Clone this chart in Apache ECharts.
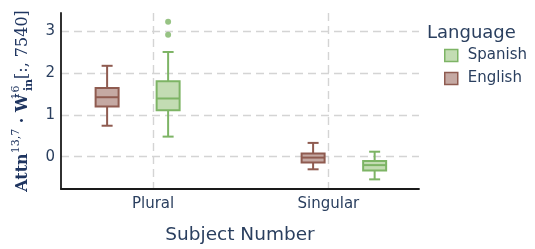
<!DOCTYPE html>
<html>
<head>
<meta charset="utf-8">
<script src="https://cdn.jsdelivr.net/npm/echarts@6/dist/echarts.min.js"></script>
<style>
  html, body { margin: 0; padding: 0; background: #fff; }
  #chart { width: 535px; height: 249px; }
</style>
</head>
<body>
<div id="chart"></div>
<script>
// 分类与数据（min, Q1, median, Q3, max）
const categories = ['Plural', 'Singular'];
const yTicks = [0, 1, 2, 3];
const englishBoxes = [
  [0.74, 1.20, 1.42, 1.64, 2.17],
  [-0.30, -0.14, -0.02, 0.08, 0.33],
];
const spanishBoxes = [
  [0.48, 1.11, 1.39, 1.80, 2.50],
  [-0.54, -0.33, -0.20, -0.10, 0.12],
];
// 离群点：[分类下标, 值]
const spanishOutliers = [
  [0, 3.22],
  [0, 2.91],
];

// 每个语言在分类内的偏移（轴单位）
const dodge = {
  English: [-0.262, -0.087],
  Spanish: [0.086, 0.264],
};

const TEXT = '#2a3f5f';
const LABEL = '#1f3560';
const colors = {
  English: { edge: '#8f5b50', fill: '#c5a9a3' },
  Spanish: { edge: '#7db465', fill: '#c3dcb3' },
};

const boxWidth = 23;
const capWidth = 11;

function boxRender(name) {
  return function (params, api) {
    const cat = api.value(0);
    const x = cat + dodge[name][cat];
    const pMin = api.coord([x, api.value(1)]);
    const pQ1 = api.coord([x, api.value(2)]);
    const pMed = api.coord([x, api.value(3)]);
    const pQ3 = api.coord([x, api.value(4)]);
    const pMax = api.coord([x, api.value(5)]);
    const cx = pMed[0];
    const c = colors[name];
    const line = { stroke: c.edge, lineWidth: 2, fill: null };
    return {
      type: 'group',
      children: [
        { type: 'line', shape: { x1: cx, y1: pMax[1], x2: cx, y2: pQ3[1] }, style: line },
        { type: 'line', shape: { x1: cx, y1: pQ1[1], x2: cx, y2: pMin[1] }, style: line },
        { type: 'line', shape: { x1: cx - capWidth / 2, y1: pMax[1], x2: cx + capWidth / 2, y2: pMax[1] }, style: line },
        { type: 'line', shape: { x1: cx - capWidth / 2, y1: pMin[1], x2: cx + capWidth / 2, y2: pMin[1] }, style: line },
        {
          type: 'rect',
          shape: { x: cx - boxWidth / 2, y: pQ3[1], width: boxWidth, height: pQ1[1] - pQ3[1] },
          style: { fill: c.fill, stroke: c.edge, lineWidth: 2 },
        },
        { type: 'line', shape: { x1: cx - boxWidth / 2, y1: pMed[1], x2: cx + boxWidth / 2, y2: pMed[1] }, style: line },
      ],
    };
  };
}

function boxData(boxes) {
  return boxes.map((b, i) => [i].concat(b));
}

const chart = echarts.init(document.getElementById('chart'), null, { renderer: 'canvas' });

const serif = 'DejaVu Serif';

const option = {
  animation: false,
  textStyle: { fontFamily: 'DejaVu Sans', color: TEXT },
  title: {
    text: 'Language',
    left: 422,
    top: 19,
    textStyle: { fontFamily: 'DejaVu Sans', fontSize: 18, fontWeight: 'normal', color: TEXT },
  },
  legend: {
    orient: 'vertical',
    left: 439,
    top: 43,
    itemWidth: 13,
    itemHeight: 12,
    itemGap: 8,
    icon: 'rect',
    textStyle: { fontSize: 15, color: TEXT, padding: [0, 0, 0, 5] },
    data: [
      { name: 'Spanish', itemStyle: { color: colors.Spanish.fill, borderColor: colors.Spanish.edge, borderWidth: 1.5 } },
      { name: 'English', itemStyle: { color: colors.English.fill, borderColor: colors.English.edge, borderWidth: 1.5 } },
    ],
  },
  grid: { left: 61, top: 13, right: 116, bottom: 60, outerBoundsMode: 'none', containLabel: false },
  xAxis: {
    type: 'value',
    min: -0.525,
    max: 1.517,
    name: 'Subject Number',
    nameLocation: 'middle',
    nameGap: 37,
    nameTextStyle: { fontSize: 18.5, color: TEXT },
    axisLine: { show: true, onZero: false, lineStyle: { color: '#1a1a1a', width: 1.8 } },
    axisTick: { show: false, customValues: [0, 1] },
    axisLabel: {
      customValues: [0, 1],
      fontSize: 15,
      color: TEXT,
      margin: 8,
      formatter: v => categories[Math.round(v)],
    },
    splitLine: { show: true, lineStyle: { color: '#d4d4d4', width: 1.4, type: [8, 5] } },
  },
  yAxis: {
    type: 'value',
    min: -0.77,
    max: 3.43,
    name: '{b|Attn}{sup|13,7}{b| · W}{sup2|16}{sub|in}{r|[:, 7540]}',
    nameLocation: 'middle',
    nameRotate: 90,
    nameGap: 23,
    nameTextStyle: {
      color: LABEL,
      rich: {
        b: { fontFamily: serif, fontWeight: 'bold', fontSize: 16, lineHeight: 24, color: LABEL },
        r: { fontFamily: serif, fontSize: 16, lineHeight: 24, color: LABEL },
        sup: { fontFamily: serif, fontSize: 11, lineHeight: 18, verticalAlign: 'top', color: LABEL },
        sup2: { fontFamily: serif, fontSize: 11, lineHeight: 18, verticalAlign: 'top', width: 3, color: LABEL },
        sub: { fontFamily: serif, fontWeight: 'bold', fontSize: 11, lineHeight: 14, verticalAlign: 'bottom', color: LABEL },
      },
    },
    axisLine: { show: true, onZero: false, lineStyle: { color: '#1a1a1a', width: 1.8 } },
    axisTick: { show: false, customValues: yTicks },
    axisLabel: { customValues: yTicks, fontSize: 15, color: TEXT, margin: 6 },
    splitLine: { show: true, lineStyle: { color: '#d4d4d4', width: 1.4, type: [8, 5] } },
  },
  series: [
    {
      name: 'English',
      type: 'custom',
      renderItem: boxRender('English'),
      encode: { x: 0, y: [1, 2, 3, 4, 5] },
      itemStyle: { color: colors.English.fill, borderColor: colors.English.edge },
      data: boxData(englishBoxes),
      z: 3,
    },
    {
      name: 'Spanish',
      type: 'custom',
      renderItem: boxRender('Spanish'),
      encode: { x: 0, y: [1, 2, 3, 4, 5] },
      itemStyle: { color: colors.Spanish.fill, borderColor: colors.Spanish.edge },
      data: boxData(spanishBoxes),
      z: 3,
    },
    {
      name: 'Spanish',
      type: 'scatter',
      symbolSize: 6,
      itemStyle: { color: colors.Spanish.edge },
      data: spanishOutliers.map(o => [o[0] + dodge.Spanish[o[0]], o[1]]),
      z: 4,
    },
  ],
};

chart.setOption(option);
</script>
</body>
</html>
